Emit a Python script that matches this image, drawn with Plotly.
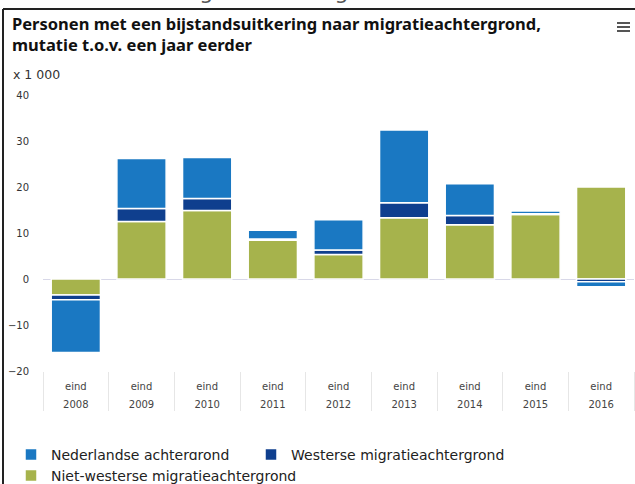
import plotly.graph_objects as go

# Personen met een bijstandsuitkering, mutatie t.o.v. een jaar eerder (x 1 000)
jaren = ["2008", "2009", "2010", "2011", "2012", "2013", "2014", "2015", "2016"]
periode = ["eind<br> "] * len(jaren)

niet_westers = [-3.5, 12.5, 14.9, 8.4, 5.3, 13.3, 11.8, 14.0, 20.0]
westers = [-1.0, 2.8, 2.6, 0.3, 1.0, 3.3, 2.0, 0.2, -0.6]
nederlands = [-11.5, 10.9, 8.9, 1.9, 6.6, 15.8, 6.9, 0.6, -1.1]

BLUE = "#1a78c2"
NAVY = "#0f3f8e"
GREEN = "#a6b34c"

W, H = 635, 484
L, R, T, B = 43, 1, 95, 113
PW, PH = W - L - R, H - T - B


def px_x(p):
    return (p - L) / PW


def px_y(p):
    return (H - B - p) / PH


x = [jaren, periode]

fig = go.Figure()
# one legend per entry so the entries can sit like in the original
for name, vals, col, leg in [
    ("Niet-westerse migratieachtergrond", niet_westers, GREEN, "legend2"),
    ("Westerse migratieachtergrond", westers, NAVY, "legend3"),
    ("Nederlandse achtergrond", nederlands, BLUE, "legend"),
]:
    fig.add_trace(go.Bar(
        x=x, y=vals, name=name, legend=leg, showlegend=True,
        marker=dict(color=col, line=dict(color="white", width=1.5)),
    ))

# menu icon (three short strokes, top right)
menu_lines = [
    dict(type="line", xref="paper", yref="paper",
         x0=px_x(617), x1=px_x(630), y0=px_y(yy), y1=px_y(yy),
         line=dict(color="#555", width=2))
    for yy in (23, 27, 31)
]

legend_style = dict(
    orientation="h",
    xanchor="left", yanchor="top",
    font=dict(family="DejaVu Sans", size=14, color="#222"),
)

fig.update_layout(
    width=W, height=H,
    showlegend=True,
    barmode="relative",
    bargap=0.25,
    margin=dict(l=L, r=R, t=T, b=B, autoexpand=False),
    plot_bgcolor="white",
    paper_bgcolor="white",
    font=dict(family="DejaVu Sans", color="#333"),
    xaxis=dict(
        type="multicategory",
        showgrid=False,
        tickfont=dict(size=10, color="#444"),
        showdividers=True,
        dividercolor="#e6e6e6",
        dividerwidth=1,
        showline=False,
        ticks="",
        ticklabelstandoff=8,
    ),
    yaxis=dict(
        range=[-20, 40],
        dtick=10,
        showgrid=False,
        zeroline=True,
        zerolinecolor="#d8d8e8",
        zerolinewidth=1,
        tickfont=dict(size=10, color="#333"),
        ticklabelstandoff=13,
    ),
    legend=dict(x=px_x(11), y=px_y(439), visible=True, **legend_style),
    legend3=dict(x=px_x(251), y=px_y(439), **legend_style),
    legend2=dict(x=px_x(11), y=px_y(460), **legend_style),
    annotations=[
        # heading of the page above the chart, cut off by the crop
        dict(text="met westerse migratieachtergrond 1", xref="paper", yref="paper",
             x=px_x(13), y=px_y(6), xanchor="left", yanchor="bottom",
             showarrow=False, font=dict(family="DejaVu Sans", size=22, color="#555")),
        dict(text="Personen met een bijstandsuitkering naar migratieachtergrond,<br>mutatie t.o.v. een jaar eerder",
             xref="paper", yref="paper", align="left",
             x=px_x(10), y=px_y(10), xanchor="left", yanchor="top",
             showarrow=False,
             font=dict(family="Noto Sans", size=16.5, color="#111", weight="bold")),
        dict(text="x 1 000", xref="paper", yref="paper",
             x=px_x(11), y=px_y(75), xanchor="left", yanchor="middle",
             showarrow=False, font=dict(size=12.5, color="#333")),
    ],
    shapes=[
        dict(type="line", xref="paper", yref="paper",
             x0=px_x(3), x1=px_x(W), y0=px_y(9), y1=px_y(9),
             line=dict(color="#222", width=2)),
        dict(type="line", xref="paper", yref="paper",
             x0=px_x(3), x1=px_x(3), y0=px_y(9), y1=px_y(H),
             line=dict(color="#222", width=2)),
    ] + menu_lines,
)

# the page's default body margin would shift the chart by 8px
fig.write_html(
    "out.html",
    config={"displayModeBar": False},
    post_script="document.body.style.margin='0';",
)
